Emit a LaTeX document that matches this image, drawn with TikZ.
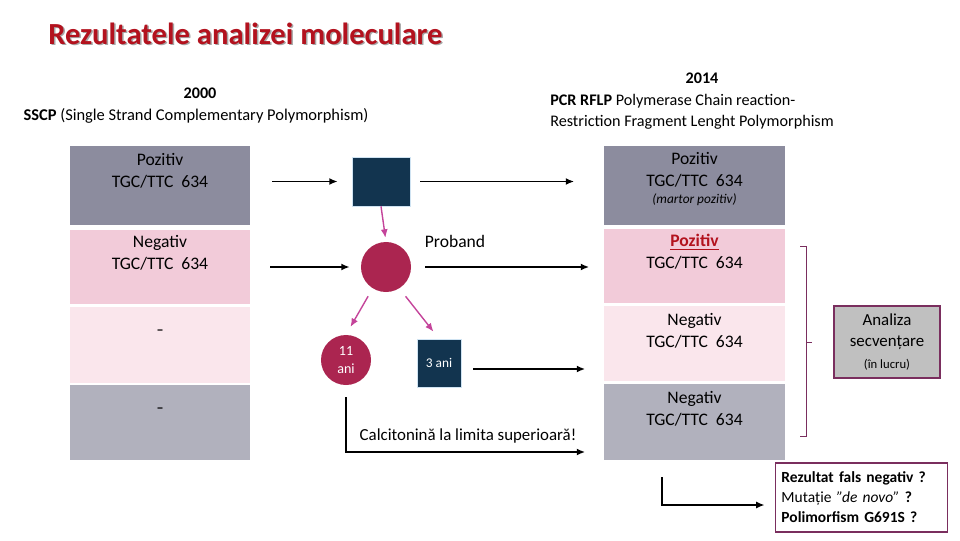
\documentclass[tikz,border=0pt]{standalone}
\usepackage{fontspec}
\setmainfont{Carlito}
\usetikzlibrary{arrows.meta,calc,positioning}

\definecolor{slate}{HTML}{8C8C9E}
\definecolor{rosy}{HTML}{F2CBD9}
\definecolor{blush}{HTML}{FAE6EC}
\definecolor{mist}{HTML}{B1B1BD}
\definecolor{navy}{HTML}{12344F}
\definecolor{paleblue}{HTML}{CFE3F2}
\definecolor{crimson}{HTML}{AB2550}
\definecolor{orchid}{HTML}{C4449A}
\definecolor{plum}{HTML}{7A2E5E}
\definecolor{titlered}{HTML}{B3121E}
\definecolor{cellgray}{HTML}{C0C0C0}

\tikzset{
  bar/.style={minimum width=4.5cm,inner sep=0},
  lbl/.style={align=center,inner sep=0,font=\fontsize{12.5}{15.6}\selectfont},
  arr/.style={-{Latex[length=6pt,width=5pt]},line width=1.3pt},
  parr/.style={-{Latex[length=6pt,width=5pt]},line width=1pt,orchid},
}

\begin{document}
\begin{tikzpicture}[x=0.025cm,y=-0.025cm]
\useasboundingbox (0,0) rectangle (960,540);

% title
\node[anchor=base west,inner sep=0,text=black!35,font=\fontsize{21.8}{26}\selectfont\bfseries] at (49.5,45.5) {Rezultatele analizei moleculare};
\node[anchor=base west,inner sep=0,text=titlered,font=\fontsize{21.8}{26}\selectfont\bfseries] (title) at (48,44) {Rezultatele analizei moleculare};

% methods
\node[lbl,font=\fontsize{11.5}{15}\selectfont\bfseries] (y2000) at (200,93) {2000};
\node[lbl,font=\fontsize{11.7}{15}\selectfont] (sscp) at (196,116) {\textbf{SSCP} (Single Strand Complementary Polymorphism)};
\node[lbl,font=\fontsize{11.5}{15}\selectfont\bfseries] (y2014) at (702,78) {2014};
\node[lbl,align=left,anchor=west,font=\fontsize{11.5}{15}\selectfont] (pcr) at (550,111.5) {\textbf{PCR RFLP} Polymerase Chain reaction-\\Restriction Fragment Lenght Polymorphism};

% left column (2000)
\node[bar,fill=slate,minimum height=1.975cm] (L1) at (160,185.5) {};
\node[bar,fill=rosy,minimum height=1.85cm] (L2) at (160,267) {};
\node[bar,fill=blush,minimum height=1.9cm] (L3) at (160,345) {};
\node[bar,fill=mist,minimum height=1.875cm] (L4) at (160,422.5) {};
\node[lbl] (t1) at (160,171) {Pozitiv\\TGC/TTC~~634};
\node[lbl] (t2) at (160,253) {Negativ\\TGC/TTC~~634};
\node[lbl,font=\bfseries] (t3) at (160,332) {--};
\node[lbl,font=\bfseries] (t4) at (160,410) {--};

% right column (2014)
\node[bar,fill=slate,minimum height=1.975cm] (R1) at (694.5,185.5) {};
\node[bar,fill=rosy,minimum height=1.85cm] (R2) at (694.5,266) {};
\node[bar,fill=blush,minimum height=1.875cm] (R3) at (694.5,343.5) {};
\node[bar,fill=mist,minimum height=1.9cm] (R4) at (694.5,422) {};
\node[lbl] (s1) at (694.5,170) {Pozitiv\\TGC/TTC~~634};
\node[lbl,font=\fontsize{9.5}{11}\selectfont\itshape] (s1b) at (694.5,200) {(martor pozitiv)};
\node[lbl] (s2) at (694.5,252) {\textcolor{titlered}{\textbf{\underline{Pozitiv}}}\\TGC/TTC~~634};
\node[lbl] (s3) at (694.5,330.5) {Negativ\\TGC/TTC~~634};
\node[lbl] (s4) at (694.5,408.5) {Negativ\\TGC/TTC~~634};

% family
\node[fill=navy,draw=paleblue,minimum width=1.45cm,minimum height=1.225cm] (father) at (381,181.5) {};
\node[circle,fill=crimson,minimum size=1.25cm] (proband) at (386,267) {};
\node[lbl] (plabel) at (455,241) {Proband};
\node[circle,fill=crimson,minimum size=1.25cm,lbl,text=white,font=\fontsize{10}{13}\selectfont] (ani11) at (346,360) {11\\ani};
\node[fill=navy,draw=paleblue,minimum width=1.1cm,minimum height=1.2cm,text=white,font=\fontsize{9.5}{12}\selectfont] (ani3) at (439,363) {3 ani};
\node[lbl,font=\fontsize{12}{14}\selectfont] (calc) at (468,436) {Calcitonină la limita superioară!};

% connectors
\coordinate (a3) at ($(ani3.east)+(0,6)$);
\coordinate (a11) at ($(R4.west)+(0,30)$);
\draw[arr,shorten <=0.55cm,shorten >=0.35cm] (L1.east |- father.west) -- (father.west);
\draw[arr,shorten <=0.25cm,shorten >=0.75cm] (father.east) -- (father.east -| R1.west);
\draw[arr,shorten <=0.5cm,shorten >=0.275cm] (L2.east |- proband.west) -- (proband.west);
\draw[arr,shorten <=0.35cm,shorten >=0.375cm] (proband.east) -- (proband.east -| R2.west);
\draw[parr,shorten >=0.1cm] (father.south) -- (proband.north);
\draw[parr,shorten <=0.225cm,shorten >=0.225cm] (proband.-122) -- (ani11.north);
\draw[parr,shorten <=0.25cm,shorten >=0.225cm] (proband.-58) -- (ani3.north);
\draw[arr,shorten <=0.3cm,shorten >=0.475cm] (a3) -- (a3 -| R3.west);
\draw[arr,shorten <=0.3cm,shorten >=0.475cm] (ani11.south) |- (a11);

% sequencing
\draw[plum,line width=0.6pt] (800,246) -- (806,246) -- (806,436) -- (800,436) (806,342) -- (812,342);
\node[draw=plum,line width=1.5pt,fill=cellgray,minimum width=2.65cm,minimum height=1.8cm,lbl,font=\fontsize{12}{15.6}\selectfont] (seq) at (887,342) {Analiza\\secvențare\\{\fontsize{9}{10}\selectfont(în lucru)}};

% questions
\node[draw=plum,line width=1.2pt,text width=4.0cm,inner xsep=0.15cm,minimum height=1.725cm,align=left,font=\fontsize{11}{14.2}\selectfont] (note) at (861.5,497.5) {\textbf{Rezultat fals negativ ?}\\Mutație \textit{"de novo"} \textbf{?}\\\textbf{Polimorfism G691S ?}};
\coordinate (q) at (662,477);
\draw[arr,shorten >=0.25cm] (q) |- ($(note.west)+(0,7.5)$);
\end{tikzpicture}
\end{document}
